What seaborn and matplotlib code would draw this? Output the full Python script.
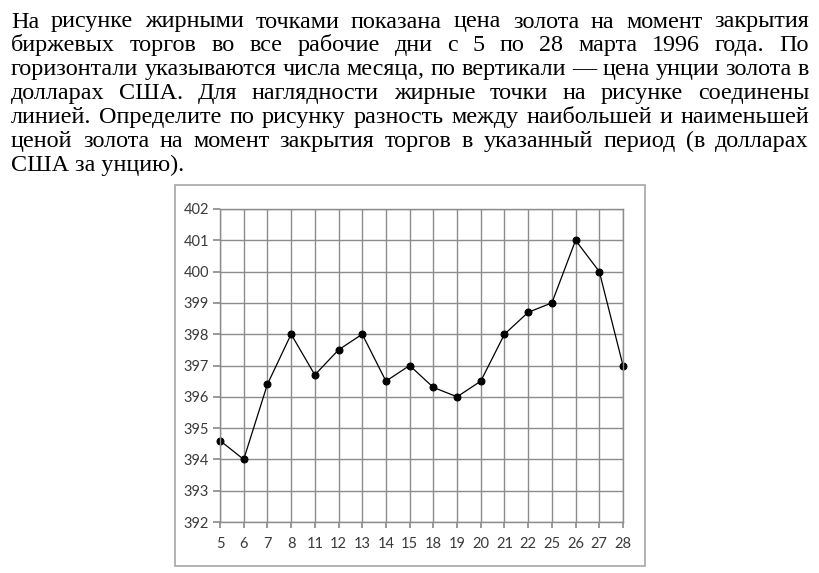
import matplotlib
matplotlib.use("Agg")
import matplotlib.pyplot as plt
import pandas as pd
import seaborn as sns
from matplotlib.patches import Rectangle

# Данные: числа марта 1996 и цена унции золота (USD)
days = ["5", "6", "7", "8", "11", "12", "13", "14", "15",
        "18", "19", "20", "21", "22", "25", "26", "27", "28"]
prices = [394.6, 394.0, 396.4, 398.0, 396.7, 397.5, 398.0, 396.5, 397.0,
          396.3, 396.0, 396.5, 398.0, 398.7, 399.0, 401.0, 400.0, 397.0]
y_ticks = list(range(392, 403))

paragraph = [
    "На рисунке жирными точками показана цена золота на момент закрытия",
    "биржевых торгов во все рабочие дни с 5 по 28 марта 1996 года. По",
    "горизонтали указываются числа месяца, по вертикали — цена унции золота в",
    "долларах США. Для наглядности жирные точки на рисунке соединены",
    "линией. Определите по рисунку разность между наибольшей и наименьшей",
    "ценой золота на момент закрытия торгов в указанный период (в долларах",
    "США за унцию).",
]

W, H = 819, 573
sns.set_theme(style="white")
fig = plt.figure(figsize=(W / 100, H / 100), dpi=100)
fig.patch.set_facecolor("white")
renderer = fig.canvas.get_renderer()

# текст задачи, выровненный по ширине
x0, x1 = 11, 809
base0, step = 27.5, 23.9

# подбираем кегль так, чтобы самая плотная строка заняла всю ширину
probe = fig.text(0, 0, paragraph[2], family="Liberation Serif", size=15)
natural = probe.get_window_extent(renderer).width
probe.remove()
size = 15 * (x1 - x0) / natural

font = dict(family="Liberation Serif", size=size, color="black")
for i, line in enumerate(paragraph):
    y = 1 - (base0 + i * step) / H
    words = line.split(" ")
    if i == len(paragraph) - 1:
        fig.text(x0 / W, y, line, ha="left", va="baseline", **font)
        continue
    items = [fig.text(0, y, w, ha="left", va="baseline", **font) for w in words]
    widths = [t.get_window_extent(renderer).width for t in items]
    gap = (x1 - x0 - sum(widths)) / (len(words) - 1)
    x = x0
    for t, w in zip(items, widths):
        t.set_x(x / W)
        x += w + gap

# рамка вокруг диаграммы
fig.patches.append(Rectangle((175 / W, 1 - 566 / H), 470 / W, 381 / H,
                             transform=fig.transFigure, fill=False,
                             edgecolor="#a6a6a6", linewidth=1.2))

df = pd.DataFrame({"day": days, "price": prices})
ax = fig.add_axes([220 / W, 1 - 522 / H, 403 / W, 313 / H])
sns.lineplot(data=df, x="day", y="price", sort=False, color="black",
             linewidth=0.9, marker="o", markersize=5,
             markeredgecolor="black", clip_on=False, ax=ax)

grid_c = "#8c8c8c"
ax.set_xlim(0, len(days) - 1)
ax.set_ylim(392, 402)
ax.set_yticks(y_ticks)
ax.set_xlabel("")
ax.set_ylabel("")
ax.grid(True, color=grid_c, linewidth=1)
ax.set_axisbelow(True)
for s in ax.spines.values():
    s.set_color(grid_c)
    s.set_linewidth(1)
ax.tick_params(axis="both", which="both", direction="out", color=grid_c,
               labelcolor="#3a3a3a", labelsize=10.5)
ax.tick_params(axis="x", length=4, pad=7, bottom=True)
ax.tick_params(axis="y", length=5, pad=3, left=True)
for lbl in ax.get_xticklabels() + ax.get_yticklabels():
    lbl.set_family("Lato")

fig.savefig("out.png", dpi=100)
